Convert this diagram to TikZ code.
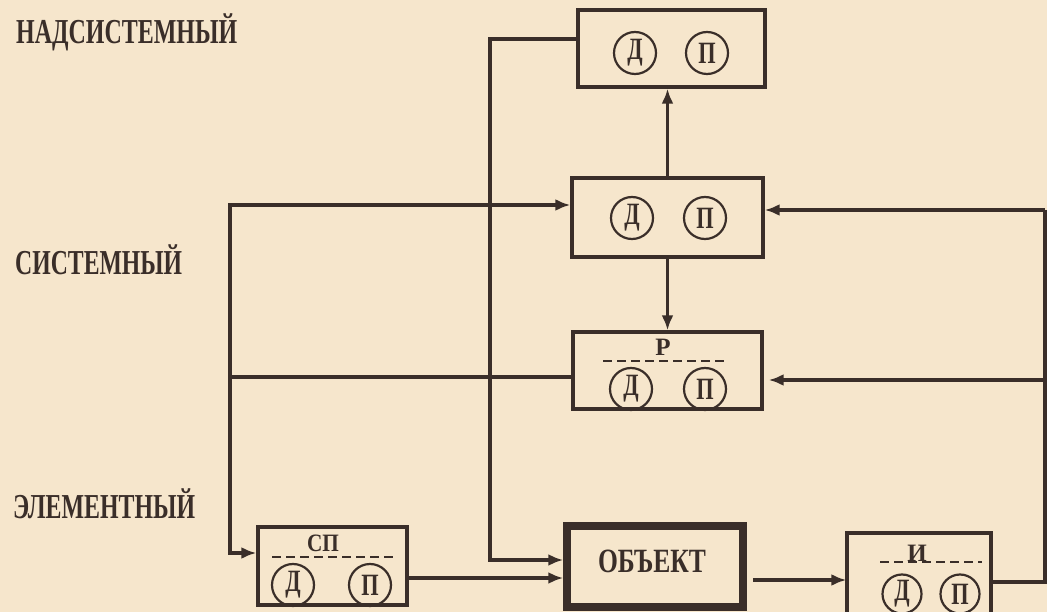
\documentclass[tikz,border=0pt]{standalone}
\usepackage{graphicx}
\usepackage{fontspec}
\setmainfont{Liberation Serif}
\usetikzlibrary{arrows.meta}
\definecolor{paper}{HTML}{F6E6CC}
\definecolor{ink}{HTML}{3A2E29}
\newcommand{\cnd}[2]{\scalebox{#1}[1]{#2}}
\begin{document}
\begin{tikzpicture}[x=1pt,y=-1pt,
  inkline/.style={draw=ink,line width=3.4pt},
  arr/.style={inkline,-{Latex[length=15pt,width=12pt]}},
  box/.style={draw=ink,line width=3.4pt,rectangle,inner sep=0},
  circ/.style={draw=ink,line width=2.2pt,circle,minimum size=42pt,inner sep=0,
     font=\fontsize{31}{31}\selectfont\bfseries,text=ink},
  lvl/.style={anchor=base west,inner sep=0,font=\fontsize{35}{35}\selectfont\bfseries,text=ink},
  smalltxt/.style={inner sep=0,font=\fontsize{25}{25}\selectfont\bfseries,text=ink},
  dashline/.style={draw=ink,line width=2.2pt,dash pattern=on 9pt off 5pt}
]
\useasboundingbox (0,0) rectangle (1047,612);
\fill[paper] (0,0) rectangle (1047,612);

% level labels
\node[lvl] (l1) at (16,44) {\resizebox{221pt}{\height}{НАДСИСТЕМНЫЙ}};
\node[lvl] (l2) at (15,275) {\resizebox{167pt}{\height}{СИСТЕМНЫЙ}};
\node[lvl] (l3) at (13,518) {\resizebox{182pt}{\height}{ЭЛЕМЕНТНЫЙ}};

% boxes
\node[box,minimum width=187pt,minimum height=77pt] (top) at (671.5,48.5) {};
\node[box,minimum width=191pt,minimum height=79pt] (mid) at (667.5,217.5) {};
\node[box,minimum width=189pt,minimum height=77pt] (pbox) at (667.5,370.5) {};
\node[box,minimum width=149pt,minimum height=78pt] (sp) at (332.5,566) {};
\node[box,line width=7.5pt,minimum width=176pt,minimum height=81pt] (obj) at (655,566.5) {};
\node[box,minimum width=144pt,minimum height=83pt] (ibox) at (919,574.5) {};

% top box contents
\node[circ] (td) at (635,53) {\cnd{0.72}{Д}};
\node[circ] (tp) at (707,53) {\cnd{0.72}{П}};
% middle box contents
\node[circ] (md) at (632,218) {\cnd{0.72}{Д}};
\node[circ] (mp) at (705,218) {\cnd{0.72}{П}};
% P box contents
\node[smalltxt] (pr) at (663,347) {Р};
\coordinate (pd1) at (603,361);
\coordinate (pd2) at (727,361);
\draw[dashline] (pd1) -- (pd2);
\node[circ] (pd) at (631,389) {\cnd{0.72}{Д}};
\node[circ] (pp) at (705,389) {\cnd{0.72}{П}};
% SP box contents
\node[smalltxt] (spt) at (323,543) {\cnd{0.85}{СП}};
\coordinate (sd1) at (272,557);
\coordinate (sd2) at (397,557);
\draw[dashline] (sd1) -- (sd2);
\node[circ] (sd) at (293,585) {\cnd{0.72}{Д}};
\node[circ] (spp) at (370,585) {\cnd{0.72}{П}};
% object
\node[inner sep=0,font=\fontsize{34}{34}\selectfont\bfseries,text=ink] (objt) at (652,561) {\resizebox{108pt}{\height}{ОБЪЕКТ}};
% I box contents
\node[smalltxt,anchor=base] (it) at (917,561) {И};
\coordinate (id1) at (880,562);
\coordinate (id2) at (982,562);
\draw[dashline] (id1) -- (id2);
\node[circ,minimum size=39pt] (idd) at (902,594) {\cnd{0.72}{Д}};
\node[circ,minimum size=39pt] (ip) at (960,594) {\cnd{0.72}{П}};

% connectors
\coordinate (jt) at (490,39);
\draw[arr] ([yshift=9.5pt]top.west) -- (jt) |- ([yshift=6.5pt]obj.west);

\coordinate (splitL) at (230,377);
\draw[inkline] ([yshift=-6.5pt]pbox.west) -- (splitL);
\draw[arr] (splitL) |- ([yshift=12.5pt]mid.west);
\draw[arr] (splitL) |- ([yshift=13pt]sp.west);

\draw[arr] (mid.north) -- (mid.north |- top.south);
\draw[arr] (mid.south) -- (mid.south |- pbox.north);

\draw[arr] ([yshift=-12pt]sp.east) -- ([yshift=-12pt]sp.east -| obj.west);
\draw[arr,shorten >=5pt] ([xshift=6pt,yshift=-13.5pt]obj.east) -- ([xshift=6pt,yshift=-13.5pt]obj.east -| ibox.west);

\coordinate (rb) at (1045,582);
\coordinate (rt) at (1045,210);
\coordinate (rp) at (1045,380);
\draw[inkline] ([yshift=-7.5pt]ibox.east) -- (rb) -- (rt);
\draw[arr] (rt) -- (rt -| mid.east);
\draw[arr,shorten >=5pt] (rp) -- (rp -| pbox.east);
\end{tikzpicture}
\end{document}
